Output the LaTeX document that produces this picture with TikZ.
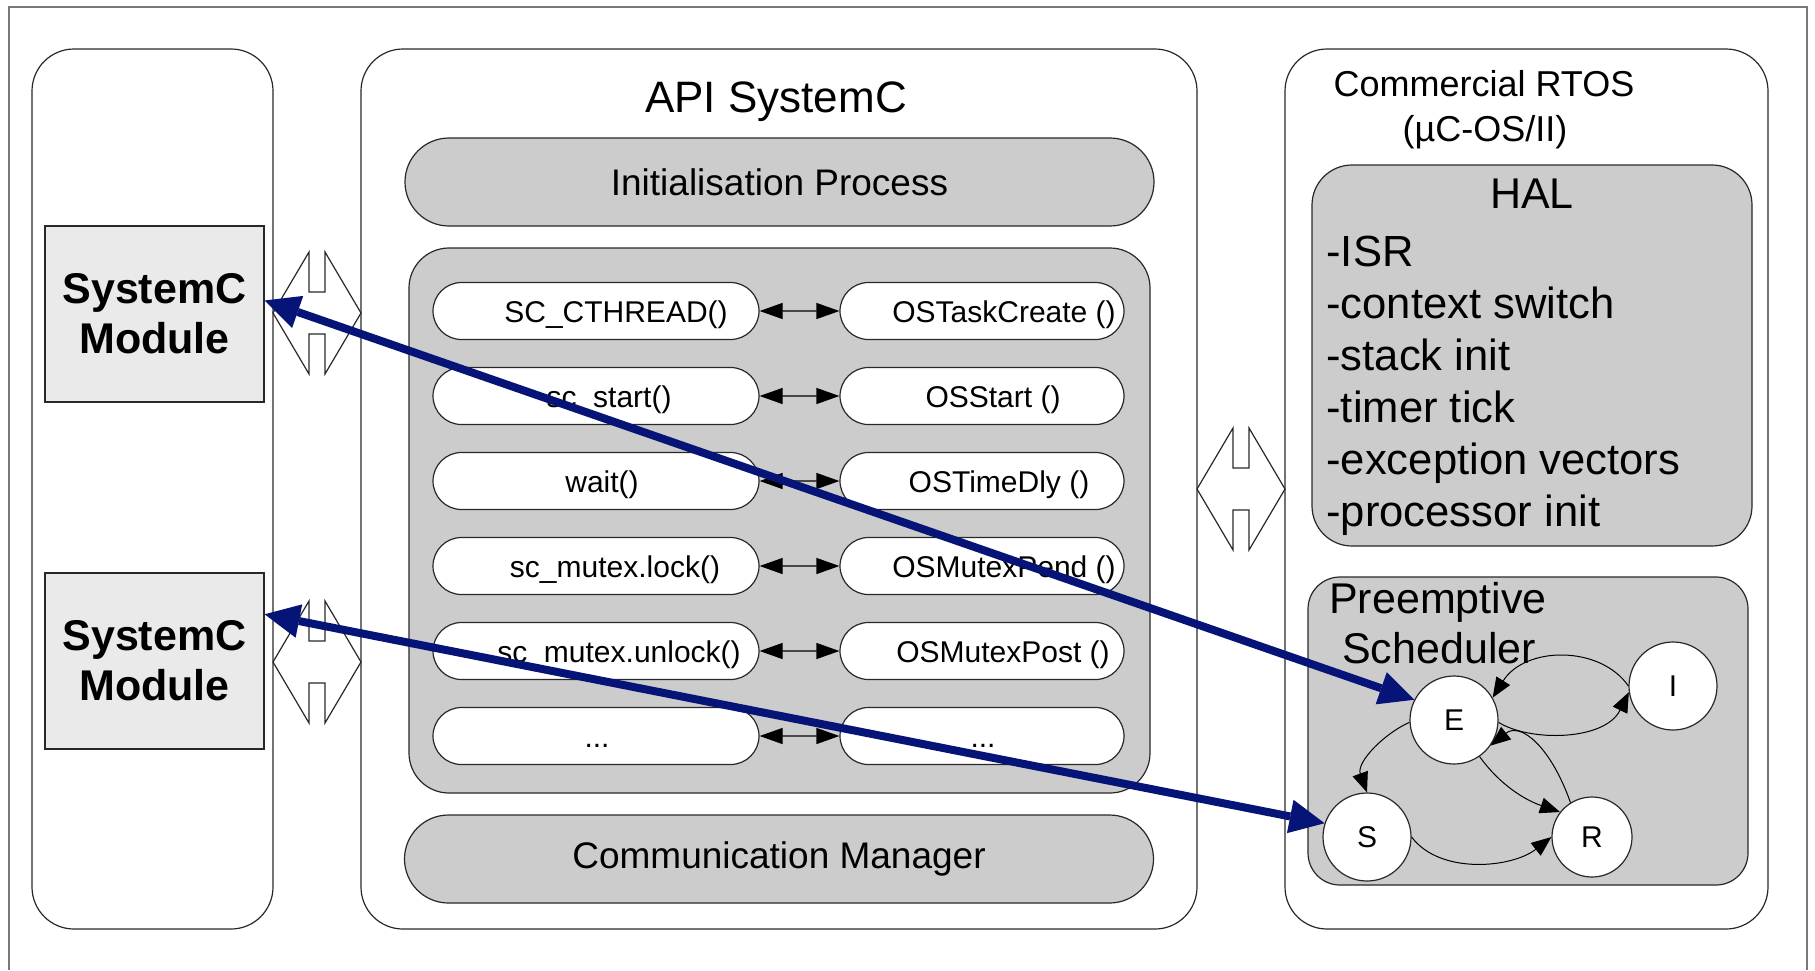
\documentclass[tikz,border=0pt]{standalone}
\usepackage{fontspec}
\setmainfont{Liberation Sans}
\usetikzlibrary{arrows.meta,shapes.misc}

\definecolor{panelgray}{RGB}{204,204,204}
\definecolor{modgray}{RGB}{234,234,234}
\definecolor{navy}{RGB}{6,20,120}
\definecolor{linec}{RGB}{40,40,40}
\definecolor{framegray}{RGB}{120,120,120}

\tikzset{
  panel/.style={draw=linec, line width=0.6pt, rounded corners=21pt, fill=white,
    inner sep=0pt, minimum height=440pt},
  module/.style={draw=linec, line width=0.6pt, fill=modgray, inner sep=0pt,
    minimum width=109.5pt, minimum height=88pt, align=center,
    font=\fontsize{21.5}{25}\selectfont\bfseries},
  stadium/.style={rounded rectangle, draw=linec, line width=0.6pt, inner sep=0pt},
  stripbox/.style={stadium, fill=panelgray, minimum width=374.5pt,
    minimum height=44pt, font=\fontsize{18.5}{22}\selectfont},
  fnleft/.style={stadium, fill=white, minimum width=163pt, minimum height=28.5pt},
  fnright/.style={stadium, fill=white, minimum width=142pt, minimum height=28.5pt},
  fntext/.style={anchor=base, inner sep=0pt, font=\fontsize{15}{18}\selectfont},
  grayblock/.style={draw=linec, line width=0.6pt, fill=panelgray, inner sep=0pt},
  title/.style={anchor=base, inner sep=0pt, font=\fontsize{22}{26}\selectfont},
  rtostitle/.style={anchor=base, inner sep=0pt, font=\fontsize{18}{22}\selectfont},
  haltext/.style={anchor=base west, inner sep=0pt, font=\fontsize{21.8}{25}\selectfont},
  haltitle/.style={anchor=base, inner sep=0pt, font=\fontsize{21.5}{25}\selectfont},
  statenode/.style={circle, draw=linec, line width=0.6pt, fill=white, inner sep=0pt,
    minimum size=44pt, font=\fontsize{15}{18}\selectfont},
  fnlink/.style={draw=black, line width=0.6pt,
    {Triangle[length=11.5pt,width=8pt]}-{Triangle[length=11.5pt,width=8pt]}},
  stcurve/.style={draw=black, line width=0.5pt, -{Triangle[length=10pt,width=8pt]}},
  bluelink/.style={draw=navy, line width=4pt,
    {Triangle[length=17.5pt,width=17pt,line width=0pt]}-{Triangle[length=17.5pt,width=17pt,line width=0pt]}},
  linkshape/.style={draw=linec, fill=white, line width=0.6pt, line join=miter},
  pics/linkarrow/.style={code={
    \draw[linkshape] (-44,0) -- (-8,-61) -- (-8,-21) -- (8,-21) -- (8,-61)
      -- (44,0) -- (8,61) -- (8,21) -- (-8,21) -- (-8,61) -- cycle;}}
}

\begin{document}
\begin{tikzpicture}[x=0.5pt, y=-0.5pt]
\useasboundingbox (0,0) rectangle (1815,970);

% outer frame
\draw[framegray, line width=0.75pt] (9,970) -- (9,7) -- (1807,7) -- (1807,970);

% the three columns
\node[panel, minimum width=120.5pt] (userside) at (152.5,489) {};
\node[panel, minimum width=418pt] (api) at (779,489) {};
\node[panel, minimum width=241.5pt] (rtos) at (1526.5,489) {};

% SystemC modules
\node[module] (mod1) at (154.5,314) {SystemC\\Module};
\node[module] (mod2) at (154.5,661) {SystemC\\Module};

% API SystemC column
\node[title] (apititle) at (776,112) {API SystemC};
\node[stripbox] (init) at (779.5,182) {Initialisation Process};
\node[grayblock, rounded corners=20pt, minimum width=370.5pt, minimum height=272.5pt]
  (calls) at (779.5,520.5) {};
\node[stripbox] (comm) at (779,859) {Communication Manager};

\foreach \n/\yy/\lt/\lx/\rt/\rx in {
  1/311/{SC\_CTHREAD()}/616/{OSTaskCreate ()}/1004,
  2/396/{sc\_start()}/609/{OSStart ()}/993,
  3/481/{wait()}/602/{OSTimeDly ()}/999,
  4/566/{sc\_mutex.lock()}/615/{OSMutexPend ()}/1004,
  5/651/{sc\_mutex.unlock()}/619/{OSMutexPost ()}/1003,
  6/736/{...}/597/{...}/983}
{
  \node[fnleft] (fl\n) at (596,\yy) {};
  \node[fnright] (fr\n) at (982,\yy) {};
  \node[fntext] (tl\n) at (\lx,\yy+11) {\lt};
  \node[fntext] (tr\n) at (\rx,\yy+11) {\rt};
  \draw[fnlink] (fl\n) -- (fr\n);
}

% RTOS column
\node[rtostitle] (rtos1) at (1484,96) {Commercial RTOS};
\node[rtostitle] (rtos2) at (1485,141) {(µC-OS/II)};

\node[grayblock, rounded corners=20pt, minimum width=220pt, minimum height=190.5pt]
  (hal) at (1532,355.5) {};
\node[haltitle] (haltitle) at (1532,208) {HAL};
\foreach \t [count=\i] in {-ISR,-context switch,-stack init,-timer tick,-exception vectors,-processor init}
  \node[haltext] (hal\i) at (1326,{266+52*(\i-1)}) {\t};

\node[grayblock, rounded corners=16pt, minimum width=220pt, minimum height=154pt]
  (sched) at (1528,731) {};
\node[haltitle] (schedtitle1) at (1438,613) {Preemptive};
\node[haltitle] (schedtitle2) at (1439,663) {Scheduler};

% scheduler states
\node[statenode] (E) at (1454,720) {E};
\node[statenode] (I) at (1673,686) {I};
\node[statenode] (S) at (1367,837) {S};
\node[statenode, minimum size=40pt] (R) at (1592,837) {R};

\draw[stcurve] (I.180) .. controls (1600,645) and (1525,646) .. (E.30);
\draw[stcurve] (E.-3) .. controls (1530,742) and (1605,741) .. (I.188);
\draw[stcurve] (E.183) .. controls (1385,733) and (1356,762) .. (S.90);
\draw[stcurve] (E.-55) .. controls (1500,785) and (1525,800) .. (R.142);
\draw[stcurve] (R.122) .. controls (1550,745) and (1520,722) .. (E.-35);
\draw[stcurve] (S.0) .. controls (1440,875) and (1512,868) .. (R.180);

% interface arrows between columns
\pic (link1) at (317,313) {linkarrow};
\pic (link2) at (317,662) {linkarrow};
\pic (link3) at (1241,489) {linkarrow};

% module to task-state mappings
\draw[bluelink] (mod1.7) -- (E.153);
\draw[bluelink] (mod2.23) -- (S.162);
\end{tikzpicture}
\end{document}
